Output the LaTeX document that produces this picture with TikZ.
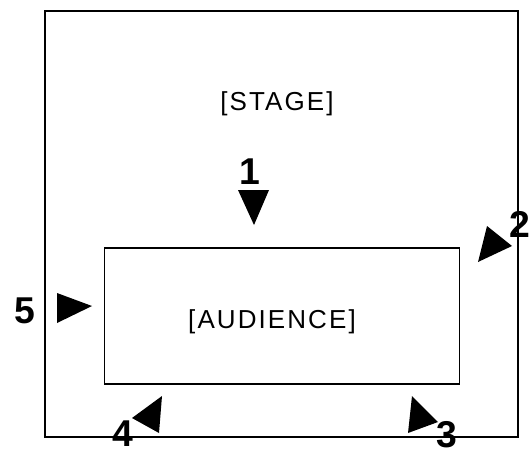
\documentclass[tikz,border=0pt]{standalone}
\usepackage{fontspec}
\setmainfont{Liberation Sans}
\newfontfamily\roomfont[LetterSpace=8]{Liberation Sans}
\usetikzlibrary{positioning}
\tikzset{
  roomlabel/.style={font=\roomfont\fontsize{19.5}{22}\selectfont, inner sep=0pt},
  seatnum/.style={font=\bfseries\fontsize{28}{30}\selectfont, inner sep=0pt},
  wall/.style={draw, line width=1.1pt},
}
\begin{document}
\begin{tikzpicture}[x=0.75pt, y=-0.75pt]
  \useasboundingbox (0,0) rectangle (531,454);
  \draw[wall] (45,11) rectangle (518,437);
  \node[draw, line width=0.9pt, minimum width=266pt, minimum height=102pt, inner sep=0pt] (audience) at (282,316) {};
  \node[roomlabel] (stage) at (277,104) {[STAGE]};
  \node[roomlabel] (aud) at (272,322) {[AUDIENCE]};
  % markers
  \foreach \ax/\ay/\bx/\by/\cx/\cy in {238/190/269/190/254/225, 487/226/478/262/512/246, 412/396/408/433/438/422, 162/396/159/433/132/418, 57/293/57/323/92/306}{
    \fill (\ax,\ay) -- (\bx,\by) -- (\cx,\cy) -- cycle;
  }
  \foreach \n/\x/\y in {1/250/172, 2/520/224, 3/447/435, 4/123/434}{
    \node[seatnum] (n\n) at (\x,\y) {\n};
  }
  \node[seatnum] (n5) at (25,311) {5};
\end{tikzpicture}
\end{document}
